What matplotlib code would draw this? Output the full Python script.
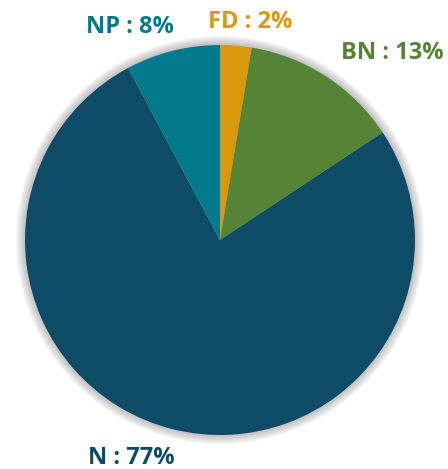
import numpy as np
import matplotlib.pyplot as plt
from matplotlib.patches import Circle

labels = ["FD", "BN", "N", "NP"]
values = [2.6, 13.1, 76.5, 7.8]
shown_pct = [2, 13, 77, 8]
colors = ["#D8990C", "#558437", "#0E4B66", "#007A8C"]
# angle tweak (deg) and distance for each label (baseline anchor)
label_shift = [-3.5, -10.6, -7.45, 9.5]
label_dist = [1.098, 1.280, 1.236, 1.158]

fig = plt.figure(figsize=(4.48, 4.69), dpi=100)
ax = fig.add_axes([0, 0, 1, 1])

# soft shadow around the pie
for i in range(8):
    ax.add_patch(Circle((0, 0), 1.0 + 0.006 * (i + 1), color="#000000",
                        alpha=0.03, lw=0, zorder=0))

wedges, _ = ax.pie(values, colors=colors, startangle=90, counterclock=False,
                   radius=1.0, wedgeprops=dict(linewidth=0))
for w in wedges:
    w.set_zorder(2)

for w, lab, p, c, sh, d in zip(wedges, labels, shown_pct, colors, label_shift, label_dist):
    ang = np.deg2rad((w.theta1 + w.theta2) / 2 + sh)
    ax.text(d * np.cos(ang), d * np.sin(ang), f"{lab} : {p}%", color=c,
            fontsize=17, fontweight="bold", family="Open Sans",
            ha="center", va="baseline")

ax.set_xlim(-220 / 195, 228 / 195)
ax.set_ylim(-229 / 195, 240 / 195)
ax.set_aspect("equal")
ax.axis("off")

fig.savefig("out.png", dpi=100)
